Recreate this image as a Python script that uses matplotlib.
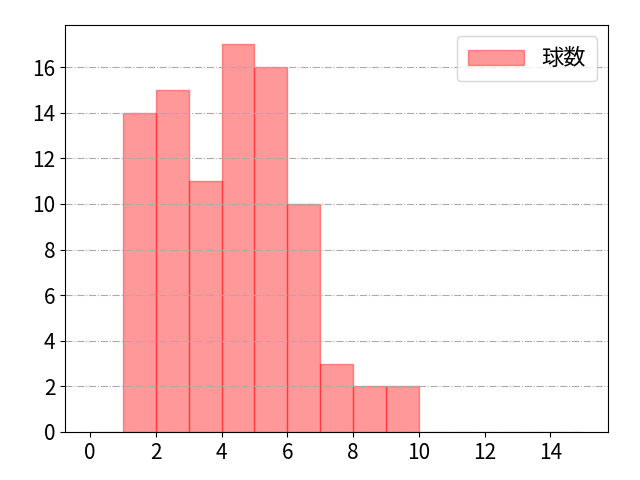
import matplotlib
matplotlib.use('Agg')
import matplotlib.pyplot as plt
import numpy as np

plt.rcParams['font.family'] = ['Noto Sans CJK JP', 'DejaVu Sans']

# pitch count per bin (bins of width 1 from 0 to 15)
bin_edges = list(range(0, 16))
counts = [0, 14, 15, 11, 17, 16, 10, 3, 2, 2, 0, 0, 0, 0, 0]
label = '球数'

fig, ax = plt.subplots(figsize=(6.4, 4.8), dpi=100)
ax.hist(bin_edges[:-1], bins=bin_edges, weights=counts,
        color='red', alpha=0.4, edgecolor='red', linewidth=1, label=label)

ax.grid(axis='y', color='#aaaaaa', linestyle='-.', linewidth=0.8)
ax.set_xticks(np.arange(0, 16, 2))
ax.set_yticks(np.arange(0, 17, 2))
ax.tick_params(labelsize=15)
ax.legend(loc='upper right', fontsize=16, handlelength=2.5, borderpad=0.5)

fig.subplots_adjust(left=0.102, right=0.95, top=0.948, bottom=0.1)
fig.savefig('out.png', dpi=100)
